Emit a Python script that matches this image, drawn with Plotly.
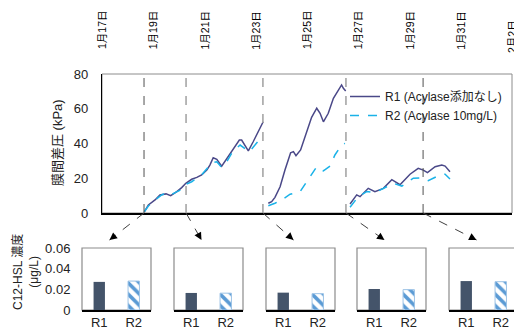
import plotly.graph_objects as go

# page body has an 8px default margin; the figure is sized to fit the window
OFF = 8
W, H = 522 - OFF, 330 - OFF

# ---------------- data ----------------
date_labels = ["1月17日", "1月19日", "1月21日", "1月23日", "1月25日",
               "1月27日", "1月29日", "1月31日", "2月2日"]
date_label_day = [0, 2, 4, 6, 8, 10, 12, 14, 16]   # days since 1月17日

# days since 1月17日 (None = gap between runs)
r1_day = [1.65, 1.81, 2.07, 2.26, 2.50, 2.68, 2.92, 3.11, 3.27, 3.50, 3.70, 3.89,
          4.09, 4.21, 4.34, 4.48, 4.67, 4.87, 5.10, 5.36, 5.45, 5.58, 5.71, 5.90,
          6.10, 6.29, None,
          6.49, 6.62, 6.75, 6.95, 7.14, 7.36, 7.47, 7.57, 7.75, 7.99, 8.18, 8.38,
          8.51, 8.64, 8.83, 9.03, 9.18, 9.35, 9.42, 9.51, None,
          9.68, 9.94, 10.07, 10.39, 10.65, 10.98, 11.31, 11.63, 12.02, 12.34,
          12.54, 12.70, 13.00, 13.26, 13.39, 13.58]
r1_kpa = [0.7, 4.6, 7.5, 10.4, 11.0, 10.0, 12.3, 14.6, 17.1, 19.4, 20.5, 21.9,
          24.7, 27.6, 31.8, 30.9, 27.0, 31.5, 36.7, 42.0, 42.0, 38.6, 35.7, 41.0,
          46.8, 52.5, None,
          5.6, 6.5, 9.0, 15.1, 24.7, 34.7, 35.3, 33.0, 36.3, 46.8, 55.1, 60.3,
          57.4, 52.5, 57.4, 66.0, 69.8, 73.7, 71.8, 70.2, None,
          5.2, 10.4, 9.4, 14.2, 12.3, 14.2, 19.2, 16.3, 22.3, 25.7,
          24.7, 23.2, 26.6, 27.6, 27.0, 23.8]

r2_day = [1.65, 1.81, 2.07, 2.34, 2.52, 2.69, 2.89, 3.11, 3.27, 3.50, 3.89, 4.28,
          4.48, 4.67, 4.87, 5.10, 5.39, 5.65, 5.75, 5.97, 6.29, None,
          6.49, 6.75, 7.01, 7.34, 7.73, 8.05, 8.38, 8.64, 8.90, 9.09, 9.35, 9.48, None,
          9.68, 10.00, 10.33, 10.65, 11.11, 11.37, 11.70, 12.15, 12.48, 12.73,
          13.19, 13.39, 13.58]
r2_kpa = [0.7, 4.0, 7.5, 10.5, 11.5, 10.4, 12.0, 13.5, 16.5, 18.0, 22.0, 28.8,
          29.5, 26.3, 29.5, 35.3, 39.1, 36.3, 35.3, 39.1, 44.9, None,
          4.2, 5.6, 7.5, 10.8, 12.3, 19.0, 26.6, 24.2, 27.0, 33.4, 39.1, 40.1, None,
          3.3, 9.4, 12.3, 11.7, 15.1, 17.1, 15.5, 20.0, 20.3, 18.6,
          21.9, 22.3, 19.6]

sampling_day = [1.64, 3.28, 6.28, 9.52, 12.53]

hsl_categories = ["R1", "R2"]
hsl_r1 = [0.0272, 0.0165, 0.0168, 0.0203, 0.0280]
hsl_r2 = [0.0280, 0.0163, 0.0158, 0.0197, 0.0274]

main_yticks = [0, 20, 40, 60, 80]
hsl_yticks = [0, 0.02, 0.04, 0.06]

series_names = ["R1 (Acylase添加なし)", "R2 (Acylase 10mg/L)"]

# ---------------- layout helpers ----------------
FONT = "Liberation Sans, Arial, Noto Sans CJK JP, sans-serif"
def px_x(p): return (p - OFF) / W
def px_y(p): return 1 - (p - OFF) / H

main_left, main_right, main_top, main_bottom = 102, 512, 74, 213
box_lefts = [82, 174, 266, 357, 449]
box_w = 69
box_top, box_bottom = 248, 310

fig = go.Figure()

fig.add_trace(go.Scatter(x=r1_day, y=r1_kpa, mode="lines", name=series_names[0],
                         line=dict(color="#4A4888", width=1.5), connectgaps=False,
                         xaxis="x", yaxis="y"))
fig.add_trace(go.Scatter(x=r2_day, y=r2_kpa, mode="lines", name=series_names[1],
                         line=dict(color="#1AB2E8", width=1.5, dash="dash"),
                         connectgaps=False, xaxis="x", yaxis="y"))

layout = dict(
    width=W, height=H, template="none",
    margin=dict(l=0, r=0, t=0, b=0),
    paper_bgcolor="white", plot_bgcolor="white",
    font=dict(family=FONT, size=13, color="#222"),
    barmode="overlay",
    showlegend=True,
    legend=dict(x=px_x(345), y=px_y(82), xanchor="left", yanchor="top",
                bgcolor="rgba(0,0,0,0)", font=dict(size=12, color="#222"),
                tracegroupgap=0),
    xaxis=dict(domain=[px_x(main_left), px_x(main_right)], range=[0, 16],
               showticklabels=False, showgrid=False, zeroline=False,
               showline=True, linecolor="black", linewidth=1.5, ticks="",
               automargin=False),
    yaxis=dict(domain=[px_y(main_bottom), px_y(main_top)], range=[0, 80],
               tickvals=main_yticks, showgrid=False, zeroline=False,
               showline=True, linecolor="black", linewidth=1.2,
               ticks="outside", ticklen=10, tickcolor="rgba(0,0,0,0)",
               tickfont=dict(size=13), automargin=False),
)

shapes = []
annotations = []

# main frame
shapes.append(dict(type="rect", xref="x domain", yref="y domain", x0=0, x1=1, y0=0, y1=1,
                   line=dict(color="#8c8c8c", width=1), layer="below"))

# sampling dashed lines
for i, d in enumerate(sampling_day):
    dark = i in (0, 4)
    shapes.append(dict(type="line", xref="x", yref="y", x0=d, x1=d, y0=0, y1=80,
                       line=dict(color="#505050" if dark else "#a0a0a0",
                                 width=1 if dark else 1.5, dash="dash")))

# bar subplots
for k in range(5):
    xa = "xaxis%d" % (k + 2)
    ya = "yaxis%d" % (k + 2)
    xr = "x%d" % (k + 2)
    yr = "y%d" % (k + 2)
    x0p = box_lefts[k]
    layout[xa] = dict(domain=[px_x(x0p), px_x(x0p + box_w)], anchor=yr,
                      type="category", categoryorder="array", categoryarray=hsl_categories,
                      range=[-0.5, 1.5], showgrid=False, zeroline=False,
                      showline=True, linecolor="black", linewidth=1.5,
                      ticks="", tickfont=dict(size=13), automargin=False)
    layout[ya] = dict(domain=[px_y(box_bottom), px_y(box_top)], anchor=xr,
                      range=[0, 0.06], tickvals=hsl_yticks,
                      ticktext=["0", "0.02", "0.04", "0.06"],
                      showticklabels=(k == 0), showgrid=False, zeroline=False,
                      showline=False, ticks="outside", ticklen=8,
                      tickcolor="rgba(0,0,0,0)", tickfont=dict(size=13),
                      automargin=False)
    fig.add_trace(go.Bar(x=[hsl_categories[0]], y=[hsl_r1[k]], width=0.33,
                         marker=dict(color="#44546A", line=dict(width=0)),
                         showlegend=False, xaxis=xr, yaxis=yr))
    fig.add_trace(go.Bar(x=[hsl_categories[1]], y=[hsl_r2[k]], width=0.33,
                         marker=dict(color="white",
                                     pattern=dict(shape="\\", fgcolor="#5B9BD5",
                                                  bgcolor="white", size=8, solidity=0.45),
                                     line=dict(color="#9DC3E6", width=1)),
                         showlegend=False, xaxis=xr, yaxis=yr))
    shapes.append(dict(type="rect", xref=xr + " domain", yref=yr + " domain",
                       x0=0, x1=1, y0=0, y1=1,
                       line=dict(color="#8c8c8c", width=1.2), layer="below"))

    # arrow from sampling line to box
    d = sampling_day[k]
    tail_px = (main_left + d / 16 * (main_right - main_left), main_bottom)
    head_px = (x0p + box_w / 2 - 7, box_top - 8)
    shapes.append(dict(type="line", xref="paper", yref="paper",
                       x0=px_x(tail_px[0]), y0=px_y(tail_px[1]),
                       x1=px_x(head_px[0]), y1=px_y(head_px[1]),
                       line=dict(color="#404040", width=1, dash="dash")))
    dx = tail_px[0] - head_px[0]
    dy = tail_px[1] - head_px[1]
    ln = (dx * dx + dy * dy) ** 0.5
    annotations.append(dict(xref="paper", yref="paper", x=px_x(head_px[0]), y=px_y(head_px[1]),
                            ax=dx / ln * 8, ay=dy / ln * 8, axref="pixel", ayref="pixel",
                            text="", showarrow=True, arrowhead=2, arrowsize=1.5,
                            arrowwidth=1, arrowcolor="black", standoff=0))

# date labels (top, rotated)
for lab, d in zip(date_labels, date_label_day):
    annotations.append(dict(xref="x", yref="paper", x=d, y=px_y(30),
                            text=lab, showarrow=False, textangle=-90,
                            xanchor="center", yanchor="middle",
                            yshift=-7 if lab.startswith("2月") else 0,
                            font=dict(size=10.5, color="#000")))

# axis titles
annotations.append(dict(xref="paper", yref="paper", x=px_x(57), y=px_y(143),
                        text="膜間差圧 (kPa)", showarrow=False, textangle=-90,
                        xanchor="center", yanchor="middle", font=dict(size=13)))
annotations.append(dict(xref="paper", yref="paper", x=px_x(26), y=px_y(272),
                        text="C12-HSL 濃度<br>(μg/L)", showarrow=False, textangle=-90,
                        xanchor="center", yanchor="middle", font=dict(size=12)))

layout["shapes"] = shapes
layout["annotations"] = annotations
fig.update_layout(**layout)

fig.write_html("out.html")
